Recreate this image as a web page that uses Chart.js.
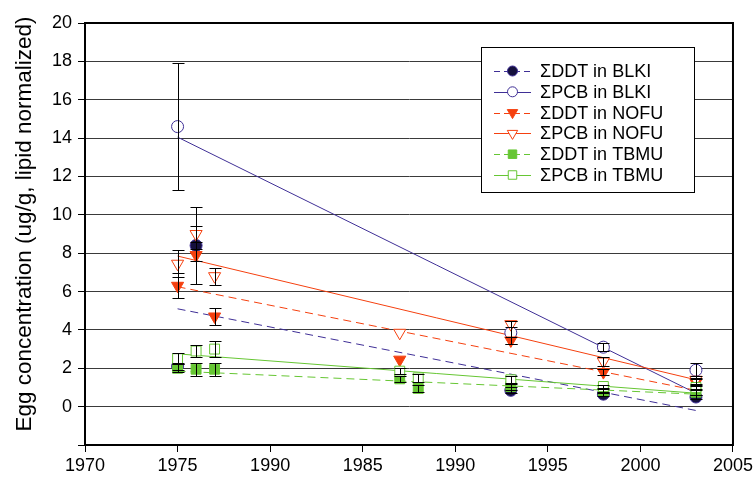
<!DOCTYPE html>
<html>
<head>
<meta charset="utf-8">
<script src="https://cdn.jsdelivr.net/npm/chart.js@4/dist/chart.umd.min.js"></script>
<style>
  html, body { margin: 0; padding: 0; background: #fff; }
  #wrap { width: 756px; height: 484px; }
</style>
</head>
<body>
<div id="wrap"><canvas id="eggChart" width="756" height="484"></canvas></div>
<script>
// tick labels as printed on the original (the third one really says 1990)
const xTickLabels = ['1970', '1975', '1990', '1985', '1990', '1995', '2000', '2005'];

// sampled years + means + error (+/-) per series
const ddtBlkiYears = [1975, 1976, 1993, 1998, 2003];
const ddtBlkiVals = [2.1, 8.4, 0.85, 0.65, 0.5];
const ddtBlkiErr = [0.2, 2.0, 0.15, 0.1, 0.1];

const pcbBlkiYears = [1975, 1993, 1998, 2003];
const pcbBlkiVals = [14.6, 3.85, 3.1, 1.9];
const pcbBlkiErr = [3.3, 0.6, 0.2, 0.4];

const ddtNofuYears = [1975, 1976, 1977, 1987, 1993, 1998, 2003];
const ddtNofuVals = [6.3, 7.9, 4.7, 2.45, 3.45, 1.8, 1.25];
const ddtNofuErr = [0.65, 0.3, 0.45, 0, 0.2, 0.15, 0.2];

const pcbNofuYears = [1975, 1976, 1977, 1987, 1993, 1998, 2003];
const pcbNofuVals = [7.45, 9.0, 6.8, 3.85, 4.3, 2.35, 1.4];
const pcbNofuErr = [0.7, 0.4, 0.45, 0, 0.15, 0.25, 0.2];

const ddtTbmuYears = [1975, 1976, 1977, 1987, 1988, 1993, 1998, 2003];
const ddtTbmuVals = [2.0, 1.95, 1.95, 1.45, 0.95, 1.05, 0.8, 0.75];
const ddtTbmuErr = [0.2, 0.35, 0.35, 0.15, 0.2, 0.2, 0.1, 0.15];

const pcbTbmuYears = [1975, 1976, 1977, 1987, 1988, 1993, 1998, 2003];
const pcbTbmuVals = [2.5, 2.9, 3.0, 1.85, 1.5, 1.4, 1.05, 1.0];
const pcbTbmuErr = [0.3, 0.3, 0.4, 0.15, 0.2, 0.2, 0.1, 0.15];

// fitted trend lines, start/end values at 1975 and 2003
const trendYears = [1975, 2003];
const ddtBlkiTrend = [5.1, -0.2];
const pcbBlkiTrend = [14.05, 0.7];
const ddtNofuTrend = [6.25, 0.85];
const pcbNofuTrend = [7.85, 1.4];
const ddtTbmuTrend = [1.85, 0.65];
const pcbTbmuTrend = [2.75, 0.7];

const yTitle = 'Egg concentration (ug/g, lipid normalized)';

const FONT = "'Liberation Sans', Arial, sans-serif";
const NAVY = '#3f2f96';
const NAVY_FILL = '#15103d';
const ORANGE = '#f5400f';
const GREEN = '#66c633';

const pts = (xs, ys) => xs.map((x, i) => ({ x: x, y: ys[i] }));

const series = [
  { label: 'ΣDDT in BLKI', years: ddtBlkiYears, vals: ddtBlkiVals, err: ddtBlkiErr, trend: ddtBlkiTrend,
    color: NAVY, fill: NAVY_FILL, style: 'circle', r: 6, dash: [8, 5] },
  { label: 'ΣPCB in BLKI', years: pcbBlkiYears, vals: pcbBlkiVals, err: pcbBlkiErr, trend: pcbBlkiTrend,
    color: NAVY, fill: '#fff', style: 'circle', r: 6, dash: [] },
  { label: 'ΣDDT in NOFU', years: ddtNofuYears, vals: ddtNofuVals, err: ddtNofuErr, trend: ddtNofuTrend,
    color: ORANGE, fill: ORANGE, style: 'triangle', r: 7, dash: [8, 5] },
  { label: 'ΣPCB in NOFU', years: pcbNofuYears, vals: pcbNofuVals, err: pcbNofuErr, trend: pcbNofuTrend,
    color: ORANGE, fill: '#fff', style: 'triangle', r: 7, dash: [] },
  { label: 'ΣDDT in TBMU', years: ddtTbmuYears, vals: ddtTbmuVals, err: ddtTbmuErr, trend: ddtTbmuTrend,
    color: GREEN, fill: GREEN, style: 'rect', r: 7, dash: [8, 5] },
  { label: 'ΣPCB in TBMU', years: pcbTbmuYears, vals: pcbTbmuVals, err: pcbTbmuErr, trend: pcbTbmuTrend,
    color: GREEN, fill: '#fff', style: 'rect', r: 7, dash: [] }
];

const datasets = [];
series.forEach((s, i) => {
  datasets.push({
    type: 'scatter',
    label: s.label,
    data: pts(s.years, s.vals),
    errors: s.err,
    pointStyle: s.style,
    pointRotation: s.style === 'triangle' ? 180 : 0,
    pointRadius: s.r,
    pointHoverRadius: s.r,
    pointBackgroundColor: s.fill,
    pointBorderColor: s.color,
    pointBorderWidth: 1,
    showLine: false,
    order: 10 - i
  });
  datasets.push({
    type: 'line',
    label: s.label + ' trend',
    data: pts(trendYears, s.trend),
    borderColor: s.color,
    borderWidth: 1,
    borderDash: s.dash,
    pointRadius: 0,
    fill: false,
    order: 20 - i
  });
});

const errorBars = {
  id: 'errorBars',
  afterDatasetsDraw(chart) {
    const { ctx, scales: { x, y } } = chart;
    ctx.save();
    ctx.strokeStyle = '#000';
    ctx.lineWidth = 1;
    chart.data.datasets.forEach(ds => {
      if (!ds.errors) return;
      ds.data.forEach((p, j) => {
        const e = ds.errors[j];
        if (!e) return;
        const px = Math.round(x.getPixelForValue(p.x)) + 0.5;
        const top = Math.round(y.getPixelForValue(p.y + e)) + 0.5;
        const bot = Math.round(y.getPixelForValue(p.y - e)) + 0.5;
        ctx.beginPath();
        ctx.moveTo(px, top); ctx.lineTo(px, bot);
        ctx.moveTo(px - 6, top); ctx.lineTo(px + 6, top);
        ctx.moveTo(px - 6, bot); ctx.lineTo(px + 6, bot);
        ctx.stroke();
      });
    });
    ctx.restore();
  }
};

// plot frame, y title and boxed legend like the original
const frameAndLegend = {
  id: 'frameAndLegend',
  afterDraw(chart) {
    const { ctx, chartArea: a } = chart;
    ctx.save();
    ctx.strokeStyle = '#000';
    ctx.lineWidth = 2;
    ctx.beginPath();
    ctx.moveTo(a.left, a.top);
    ctx.lineTo(a.right, a.top);
    ctx.lineTo(a.right, a.bottom + 1);
    ctx.stroke();

    // axis title, sits a bit above the plot centre in the original
    ctx.save();
    ctx.translate(25, 224);
    ctx.rotate(-Math.PI / 2);
    ctx.fillStyle = '#000';
    ctx.font = '22.5px ' + FONT;
    ctx.textAlign = 'center';
    ctx.textBaseline = 'middle';
    ctx.fillText(yTitle, 0, 0);
    ctx.restore();

    const bx = 481.5, by = 47.5, bw = 213, bh = 145;
    ctx.fillStyle = '#fff';
    ctx.fillRect(bx, by, bw, bh);
    ctx.lineWidth = 1;
    ctx.strokeRect(bx, by, bw, bh);

    series.forEach((s, i) => {
      const yy = 71 + i * 20.8;
      ctx.strokeStyle = s.color;
      ctx.lineWidth = 1;
      ctx.setLineDash(s.dash.length ? [6, 4] : []);
      ctx.beginPath();
      ctx.moveTo(494, Math.round(yy) + 0.5);
      ctx.lineTo(531, Math.round(yy) + 0.5);
      ctx.stroke();
      ctx.setLineDash([]);
      ctx.fillStyle = s.fill;
      Chart.helpers.drawPoint(ctx, {
        pointStyle: s.style,
        rotation: s.style === 'triangle' ? 180 : 0,
        radius: s.style === 'circle' ? 5 : 6,
        borderWidth: 1
      }, 512.5, yy);
      ctx.fillStyle = '#000';
      ctx.font = '18px ' + FONT;
      ctx.textAlign = 'left';
      ctx.textBaseline = 'middle';
      ctx.fillText(s.label, 540, yy + 1);
    });
    ctx.restore();
  }
};

new Chart(document.getElementById('eggChart'), {
  type: 'scatter',
  data: { datasets: datasets },
  plugins: [errorBars, frameAndLegend],
  options: {
    responsive: false,
    animation: false,
    events: [],
    layout: { padding: { top: 23, right: 18, left: 0, bottom: 0 } },
    plugins: { legend: { display: false }, tooltip: { enabled: false } },
    scales: {
      x: {
        type: 'linear',
        min: 1970,
        max: 2005,
        afterFit: s => { s.height = 39; },
        afterBuildTicks: s => {
          s.ticks = xTickLabels.map((t, i) => ({ value: 1970 + i * 5 }));
        },
        ticks: {
          color: '#000',
          font: { family: FONT, size: 18 },
          padding: 3,
          maxRotation: 0,
          callback: (v, i) => xTickLabels[i]
        },
        grid: { drawOnChartArea: false, drawTicks: true, tickLength: 7, color: '#000' },
        border: { color: '#000', width: 2 }
      },
      y: {
        min: -2,
        max: 20,
        afterFit: s => { s.width = 85; },
        ticks: {
          stepSize: 2,
          color: '#000',
          font: { family: FONT, size: 18 },
          padding: 6,
          callback: v => (v < 0 ? '' : v)
        },
        grid: { color: '#3a3a3a', lineWidth: 1, tickLength: 7, tickColor: '#000' },
        border: { color: '#000', width: 2 }
      }
    }
  }
});
</script>
</body>
</html>
